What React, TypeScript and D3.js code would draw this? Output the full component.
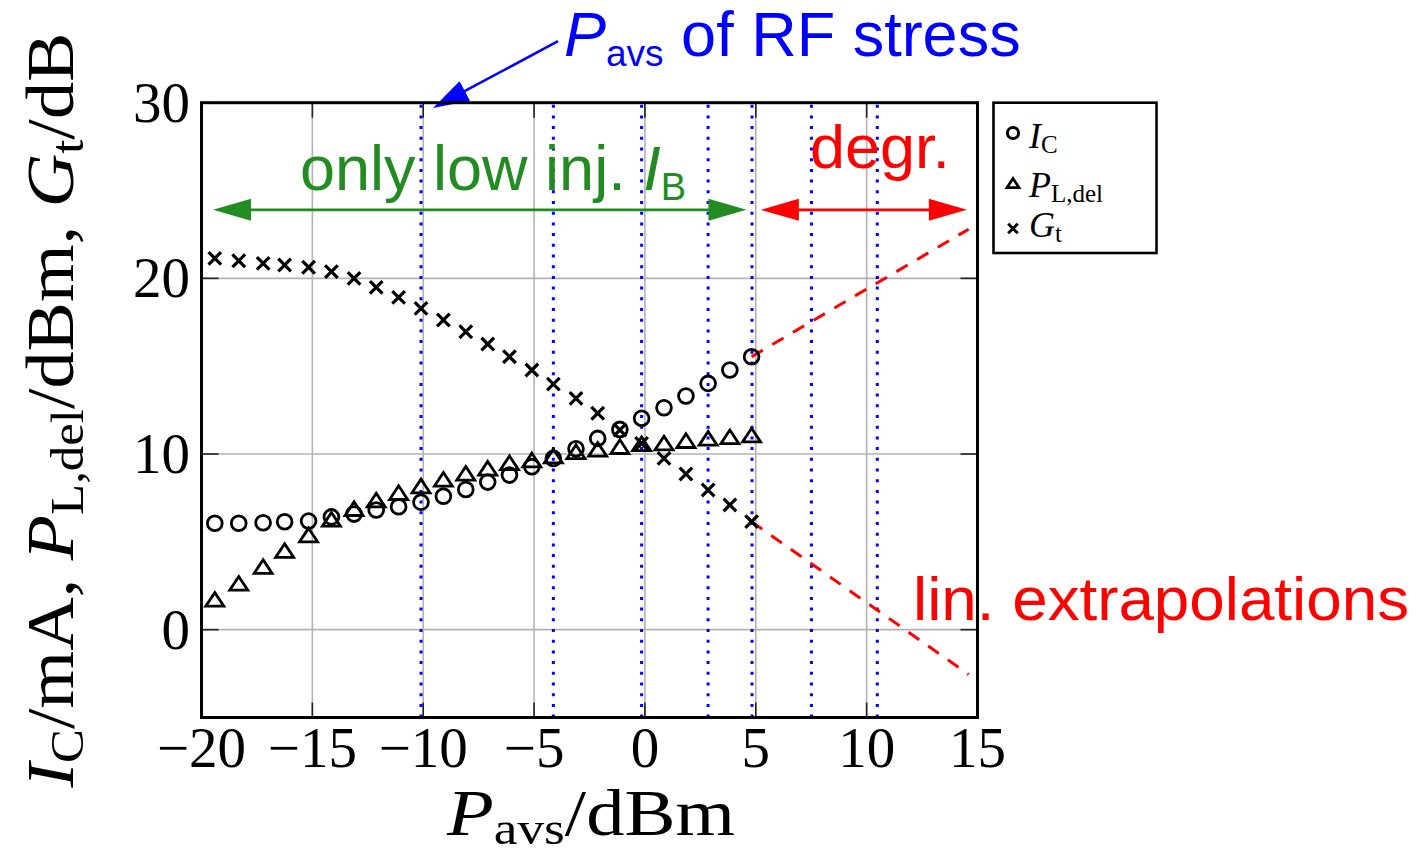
import React from "react";
import * as d3 from "d3";

// Measured sweep: available source power and the responses
const pavs = [-19.4, -18.32, -17.22, -16.25, -15.17, -14.14, -13.12, -12.12, -11.11, -10.1, -9.09, -8.08, -7.09, -6.11, -5.1, -4.13, -3.11, -2.13, -1.13, -0.15, 0.86, 1.85, 2.85, 3.83, 4.81];
const icMA = [6.06, 6.06, 6.09, 6.14, 6.18, 6.42, 6.58, 6.81, 7.0, 7.26, 7.6, 7.98, 8.4, 8.8, 9.28, 9.75, 10.3, 10.89, 11.4, 12.03, 12.63, 13.3, 14.02, 14.78, 15.54];
const pLdel = [1.73, 2.64, 3.59, 4.5, 5.39, 6.28, 6.89, 7.38, 7.8, 8.18, 8.56, 8.9, 9.19, 9.5, 9.66, 9.88, 10.13, 10.27, 10.42, 10.58, 10.62, 10.76, 10.89, 10.98, 11.08];
const gtDB = [21.14, 21.0, 20.85, 20.76, 20.63, 20.38, 20.0, 19.49, 18.92, 18.29, 17.63, 16.96, 16.26, 15.54, 14.78, 13.98, 13.17, 12.32, 11.37, 10.6, 9.75, 8.86, 7.95, 7.1, 6.15];

// Pavs levels used for the RF stress experiments
const stressPavs = [-10.1, -4.13, -0.15, 2.85, 4.83, 7.51, 10.48];

// Linear extrapolations beyond the measured range
const extrapX = [4.81, 14.6];
const icExtrap = [15.54, 22.8];
const gtExtrap = [6.15, -2.55];

const xTicks = [-20, -15, -10, -5, 0, 5, 10, 15];
const yTicks = [0, 10, 20, 30];
const gridX = [-15, -10, -5, 0, 5, 10];
const gridY = [0, 10, 20];

// Region arrows (in Pavs) and their level
const lowInjRange = [-19.48, 4.58];
const degrRange = [5.23, 14.52];
const regionLevel = 23.9;

const W = 1418;
const H = 855;
const serif = "'Liberation Serif', 'Times New Roman', serif";
const sans = "'Liberation Sans', Arial, sans-serif";
const GREEN = "#228b22";

function head(tx: number, ty: number, fx: number, fy: number, L: number, w: number) {
  const dx = tx - fx, dy = ty - fy;
  const n = Math.hypot(dx, dy);
  const ux = dx / n, uy = dy / n;
  const bx = tx - ux * L, by = ty - uy * L;
  const px = -uy, py = ux;
  return `M${tx},${ty}L${bx + px * w},${by + py * w}L${bx - px * w},${by - py * w}Z`;
}

function Circle({ cx, cy, r = 7.4, sw = 2.8 }: any) {
  return <circle cx={cx} cy={cy} r={r} fill="none" stroke="#000" strokeWidth={sw} />;
}
function Tri({ cx, cy, s = 9, sw = 2.8 }: any) {
  const h = s * 0.76;
  return (
    <path
      d={`M${cx},${cy - h}L${cx + s},${cy + h}L${cx - s},${cy + h}Z`}
      fill="none"
      stroke="#000"
      strokeWidth={sw}
      strokeLinejoin="miter"
    />
  );
}
function Cross({ cx, cy, s = 6.3, sw = 3.2 }: any) {
  return (
    <path
      d={`M${cx - s},${cy - s}L${cx + s},${cy + s}M${cx - s},${cy + s}L${cx + s},${cy - s}`}
      stroke="#000"
      strokeWidth={sw}
    />
  );
}

export default function App() {
  const x = d3.scaleLinear().domain([-20, 15]).range([201.5, 977.5]);
  const y = d3.scaleLinear().domain([-5, 30]).range([717.5, 102.7]);
  const [x0, x1] = x.range();
  const [y0, y1] = y.range();

  const lineGen = d3
    .line<[number, number]>()
    .x((d) => x(d[0]))
    .y((d) => y(d[1]));

  const icLine = lineGen(extrapX.map((v, i) => [v, icExtrap[i]] as [number, number]));
  const gtLine = lineGen(extrapX.map((v, i) => [v, gtExtrap[i]] as [number, number]));

  const L = 38, hw = 11;
  const ay = y(regionLevel);
  const gA = x(lowInjRange[0]), gB = x(lowInjRange[1]);
  const rA = x(degrRange[0]), rB = x(degrRange[1]);

  // annotation arrow pointing at the stress levels
  const tail = [x(-3.92), y(33.5)];
  const tip = [x(-9.56), y(29.7)];
  const tipDir = Math.hypot(tip[0] - tail[0], tip[1] - tail[1]);
  const shaftEnd = [
    tip[0] - ((tip[0] - tail[0]) / tipDir) * 30,
    tip[1] - ((tip[1] - tail[1]) / tipDir) * 30,
  ];

  return (
    <svg
      width={W}
      height={H}
      viewBox={`0 0 ${W} ${H}`}
      style={{ position: "absolute", left: 0, top: 0, background: "#fff" }}
    >
      <rect x={0} y={0} width={W} height={H} fill="#fff" />

      {/* grid */}
      {gridX.map((v) => (
        <line key={"gx" + v} x1={x(v)} x2={x(v)} y1={y0} y2={y1} stroke="#b3b3b3" strokeWidth={1.6} />
      ))}
      {gridY.map((v) => (
        <line key={"gy" + v} x1={x0} x2={x1} y1={y(v)} y2={y(v)} stroke="#b3b3b3" strokeWidth={1.6} />
      ))}

      {/* ticks (inside) */}
      {xTicks.map((v) => (
        <g key={"xt" + v}>
          <line x1={x(v)} x2={x(v)} y1={y0} y2={y0 - 15} stroke="#222" strokeWidth={1.6} />
          <line x1={x(v)} x2={x(v)} y1={y1} y2={y1 + 15} stroke="#222" strokeWidth={1.6} />
        </g>
      ))}
      {yTicks.map((v) => (
        <g key={"yt" + v}>
          <line x1={x0} x2={x0 + 17} y1={y(v)} y2={y(v)} stroke="#222" strokeWidth={1.6} />
          <line x1={x1} x2={x1 - 17} y1={y(v)} y2={y(v)} stroke="#222" strokeWidth={1.6} />
        </g>
      ))}

      {/* stress levels */}
      {stressPavs.map((v) => (
        <line
          key={"s" + v}
          x1={x(v)}
          x2={x(v)}
          y1={y1 + 2}
          y2={y0}
          stroke="#0000ff"
          strokeWidth={3}
          strokeDasharray="3 7.7"
        />
      ))}

      {/* extrapolations */}
      <path d={icLine || ""} fill="none" stroke="#ff0000" strokeWidth={3} strokeDasharray="13 11" />
      <path d={gtLine || ""} fill="none" stroke="#ff0000" strokeWidth={3} strokeDasharray="13 11" />

      {/* data */}
      {pavs.map((v, i) => (
        <Circle key={"c" + i} cx={x(v)} cy={y(icMA[i])} />
      ))}
      {pavs.map((v, i) => (
        <Tri key={"t" + i} cx={x(v)} cy={y(pLdel[i])} />
      ))}
      {pavs.map((v, i) => (
        <Cross key={"x" + i} cx={x(v)} cy={y(gtDB[i])} />
      ))}

      {/* region arrows */}
      <line x1={gA + L - 2} x2={gB - L + 2} y1={ay} y2={ay} stroke={GREEN} strokeWidth={2.6} />
      <path d={head(gA, ay, gB, ay, L, hw)} fill={GREEN} />
      <path d={head(gB, ay, gA, ay, L, hw)} fill={GREEN} />
      <line x1={rA + L - 2} x2={rB - L + 2} y1={ay} y2={ay} stroke="#ff0000" strokeWidth={2.6} />
      <path d={head(rA, ay, rB, ay, L, hw)} fill="#ff0000" />
      <path d={head(rB, ay, rA, ay, L, hw)} fill="#ff0000" />

      <text x={300} y={190} fontFamily={sans} fontSize={63} fill={GREEN}>
        only low inj.{" "}
        <tspan fontStyle="italic">I</tspan>
        <tspan fontSize={38} dy={10}>B</tspan>
      </text>
      <text x={810} y={168} fontFamily={sans} fontSize={62} fill="#ff0000" textLength={140} lengthAdjust="spacingAndGlyphs">
        degr.
      </text>
      <text x={913} y={620} fontFamily={sans} fontSize={62} fill="#ff0000" textLength={496} lengthAdjust="spacingAndGlyphs">
        lin. extrapolations
      </text>

      {/* stress annotation */}
      <line x1={tail[0]} y1={tail[1]} x2={shaftEnd[0]} y2={shaftEnd[1]} stroke="#0000ff" strokeWidth={2.6} />
      <path d={head(tip[0], tip[1], tail[0], tail[1], 36, 11)} fill="#0000ff" />
      <text x={564} y={56} fontFamily={sans} fontSize={63} fill="#0000ff">
        <tspan fontStyle="italic">P</tspan>
        <tspan fontSize={37} dy={10}>avs</tspan>
        <tspan dy={-10}> of RF stress</tspan>
      </text>

      {/* frame */}
      <rect x={x0} y={y1} width={x1 - x0} height={y0 - y1} fill="none" stroke="#000" strokeWidth={3} />

      {/* tick labels */}
      {xTicks.map((v) => (
        <text key={"xl" + v} x={x(v)} y={767} textAnchor="middle" fontFamily={serif} fontSize={57} fill="#000">
          {v < 0 ? "\u2212" + Math.abs(v) : String(v)}
        </text>
      ))}
      {yTicks.map((v) => (
        <text key={"yl" + v} x={190} y={y(v) + 19} textAnchor="end" fontFamily={serif} fontSize={57} fill="#000">
          {String(v)}
        </text>
      ))}

      {/* axis labels */}
      <text x={591} y={835} textAnchor="middle" fontFamily={serif} fontSize={66} fill="#000" textLength={288} lengthAdjust="spacingAndGlyphs">
        <tspan fontStyle="italic">P</tspan>
        <tspan fontSize={46} dy={9}>avs</tspan>
        <tspan dy={-9}>/dBm</tspan>
      </text>
      <text
        transform={`translate(73, ${(y0 + y1) / 2}) rotate(-90)`}
        textAnchor="middle"
        fontFamily={serif}
        fontSize={67}
        fill="#000"
        textLength={755}
        lengthAdjust="spacingAndGlyphs"
      >
        <tspan fontStyle="italic">I</tspan>
        <tspan fontSize={46} dy={10}>C</tspan>
        <tspan dy={-10}>/mA, </tspan>
        <tspan fontStyle="italic">P</tspan>
        <tspan fontSize={46} dy={10}>L,del</tspan>
        <tspan dy={-10}>/dBm, </tspan>
        <tspan fontStyle="italic">G</tspan>
        <tspan fontSize={46} dy={10}>t</tspan>
        <tspan dy={-10}>/dB</tspan>
      </text>

      {/* legend */}
      <rect x={993.5} y={102.7} width={163} height={150.3} fill="#fff" stroke="#000" strokeWidth={2.6} />
      <Circle cx={1013} cy={133} r={5.6} sw={3} />
      <Tri cx={1013} cy={183} s={6} sw={2.8} />
      <Cross cx={1013} cy={228.5} s={4.8} sw={3} />
      <text x={1029} y={148} fontFamily={serif} fontSize={36} fill="#000">
        <tspan fontStyle="italic">I</tspan>
        <tspan fontSize={25} dy={5}>C</tspan>
      </text>
      <text x={1029} y={196.5} fontFamily={serif} fontSize={36} fill="#000">
        <tspan fontStyle="italic">P</tspan>
        <tspan fontSize={25} dy={5}>L,del</tspan>
      </text>
      <text x={1029} y={237} fontFamily={serif} fontSize={36} fill="#000">
        <tspan fontStyle="italic">G</tspan>
        <tspan fontSize={25} dy={5}>t</tspan>
      </text>
    </svg>
  );
}
